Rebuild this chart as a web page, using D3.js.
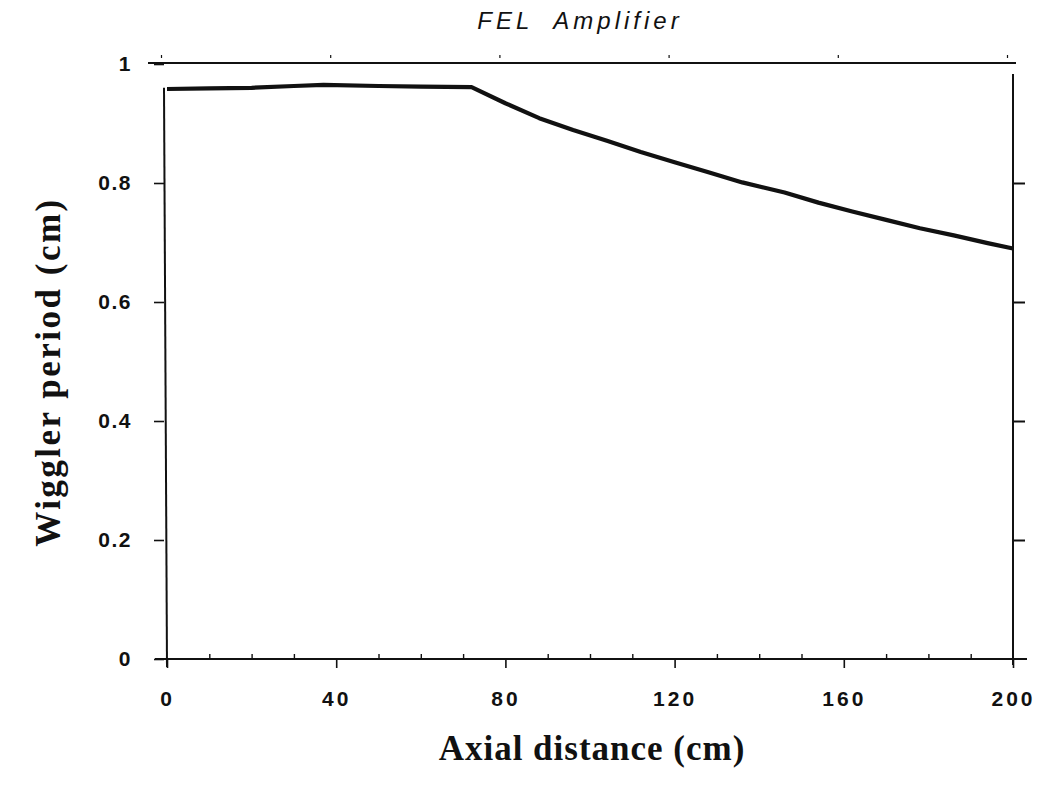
<!DOCTYPE html>
<html>
<head>
<meta charset="utf-8">
<script src="https://cdn.jsdelivr.net/npm/d3@7"></script>
<style>
  html, body { margin: 0; padding: 0; background: #fff; }
  svg { display: block; }
</style>
</head>
<body>
<svg id="chart" width="1045" height="791"></svg>
<script>
// ---- data ----
const title = "FEL  Amplifier";
const xTitle = "Axial distance (cm)";
const yTitle = "Wiggler period (cm)";
const axialDistance = [0, 10, 20, 30, 37, 50, 60, 72, 80, 88, 96, 104, 112, 120, 128, 136, 146, 154, 162, 170, 178, 186, 194, 200];
const wigglerPeriod = [0.958, 0.959, 0.960, 0.963, 0.965, 0.963, 0.962, 0.961, 0.934, 0.909, 0.889, 0.871, 0.852, 0.835, 0.818, 0.801, 0.784, 0.767, 0.752, 0.738, 0.724, 0.712, 0.699, 0.690];
const xTickValues = [0, 40, 80, 120, 160, 200];
const xMinorTicks = [10, 20, 30, 50, 60, 70, 90, 100, 110, 130, 140, 150, 170, 180, 190];
const yTickValues = [0, 0.2, 0.4, 0.6, 0.8, 1];
const yTickLabels = ["0", "0.2", "0.4", "0.6", "0.8", "1"];

// ---- layout ----
const svg = d3.select("#chart");
const x = d3.scaleLinear().domain([0, 200]).range([167, 1013]);
const y = d3.scaleLinear().domain([0, 1]).range([659, 64]);
const ink = "#111";
const tickFont = "'Liberation Sans', Arial, sans-serif";
const serif = "'Liberation Serif', 'Times New Roman', serif";

// bottom axis: major ticks downward, labels
const bottomAxis = d3.axisBottom(x).tickValues(xTickValues).tickSize(9).tickPadding(23).tickFormat(d3.format("d"));
const gb = svg.append("g").attr("transform", `translate(0,${y(0)})`).call(bottomAxis);
gb.attr("font-size", null).attr("font-family", null);
gb.select(".domain").remove();
gb.selectAll(".tick line").attr("stroke", ink).attr("stroke-width", 1.6);
gb.selectAll(".tick text").style("font-family", tickFont).style("font-size", "21px").style("font-weight", "bold")
  .style("letter-spacing", "3px").attr("fill", ink);
// minor ticks upward
const gbm = svg.append("g").attr("transform", `translate(0,${y(0)})`)
  .call(d3.axisTop(x).tickValues(xMinorTicks).tickSize(5).tickFormat(""));
gbm.select(".domain").remove();
gbm.selectAll(".tick line").attr("stroke", ink).attr("stroke-width", 1.4);
// bottom line
svg.append("line").attr("x1", 155).attr("x2", 1027).attr("y1", y(0)).attr("y2", y(0))
  .attr("stroke", ink).attr("stroke-width", 2.2);

// top line with faint ticks
svg.append("line").attr("x1", 148).attr("x2", 1016).attr("y1", y(1) - 1).attr("y2", y(1) - 1)
  .attr("stroke", ink).attr("stroke-width", 2);
const gt = svg.append("g").attr("transform", `translate(-6,${y(1) - 6})`)
  .call(d3.axisTop(x).tickValues(xTickValues).tickSize(3).tickFormat(""));
gt.select(".domain").remove();
gt.selectAll(".tick line").attr("stroke", ink).attr("stroke-width", 1.2);

// left axis: ticks outward, labels
const leftAxis = d3.axisLeft(y).tickValues(yTickValues).tickSize(10).tickPadding(22)
  .tickFormat((d, i) => yTickLabels[i]);
const gl = svg.append("g").attr("transform", `translate(${x(0) - 3},0)`).call(leftAxis);
gl.attr("font-size", null).attr("font-family", null);
gl.select(".domain").remove();
gl.selectAll(".tick line").attr("stroke", ink).attr("stroke-width", 1.6);
gl.selectAll(".tick text").style("font-family", tickFont).style("font-size", "21px").style("font-weight", "bold")
  .style("letter-spacing", "1.5px").attr("fill", ink);
svg.append("line").attr("x1", x(0) - 3).attr("x2", x(0)).attr("y1", y(0.96)).attr("y2", y(0) + 8)
  .attr("stroke", ink).attr("stroke-width", 2);

// right axis: ticks outward (to the right)
const rightAxis = d3.axisRight(y).tickValues([0.2, 0.4, 0.6, 0.8]).tickSize(12).tickFormat("");
const gr = svg.append("g").attr("transform", `translate(${x(200)},0)`).call(rightAxis);
gr.select(".domain").remove();
gr.selectAll(".tick line").attr("stroke", ink).attr("stroke-width", 2);
svg.append("line").attr("x1", x(200)).attr("x2", x(200)).attr("y1", y(1) + 10).attr("y2", y(0) + 6)
  .attr("stroke", ink).attr("stroke-width", 2);

// curve
const line = d3.line().x((d, i) => x(axialDistance[i])).y(d => y(d));
svg.append("path").datum(wigglerPeriod).attr("d", line)
  .attr("fill", "none").attr("stroke", ink).attr("stroke-width", 4.2).attr("stroke-linejoin", "round");

// titles
svg.append("text").attr("x", 580).attr("y", 29).attr("text-anchor", "middle")
  .style("font-family", tickFont).style("font-style", "italic").style("font-size", "24px")
  .style("letter-spacing", "4px").style("white-space", "pre").attr("fill", ink).text(title);
svg.append("text").attr("x", 592).attr("y", 760).attr("text-anchor", "middle")
  .style("font-family", serif).style("font-weight", "bold").style("font-size", "35px")
  .style("letter-spacing", "1px").attr("fill", ink).text(xTitle);
svg.append("text").attr("transform", "translate(60,372) rotate(-90)").attr("text-anchor", "middle")
  .style("font-family", serif).style("font-weight", "bold").style("font-size", "35px")
  .style("letter-spacing", "2.5px").attr("fill", ink).text(yTitle);
</script>
</body>
</html>
